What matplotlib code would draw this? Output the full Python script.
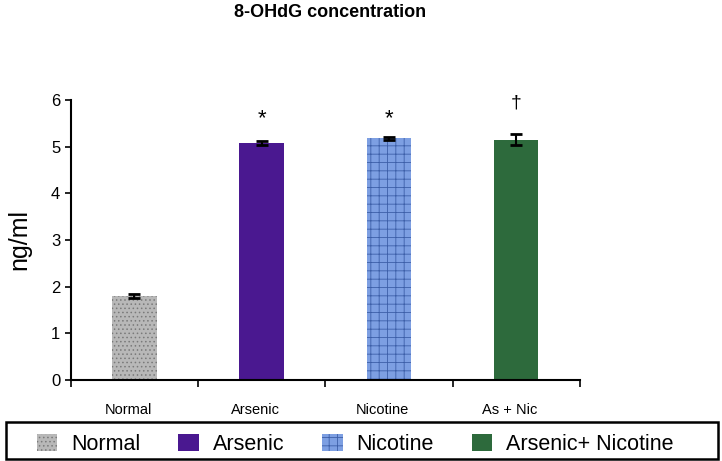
import numpy as np
import matplotlib.pyplot as plt
from matplotlib.patches import Patch, Rectangle

# data
groups = ["Normal", "Arsenic", "Nicotine", "As + Nic"]
legend_names = ["Normal", "Arsenic", "Nicotine", "Arsenic+ Nicotine"]
means = [1.80, 5.08, 5.18, 5.15]
errs = [0.04, 0.05, 0.03, 0.12]
marks = ["", "*", "*", "\u2020"]
mark_y = [0, 5.6, 5.6, 5.93]

colors = ["#b8b8b8", "#4a1890", "#7d9fe2", "#2d6a3c"]
hatches = ["....", None, "++", None]
edgecols = ["#7a7a7a", "#4a1890", "#3d5fa8", "#2d6a3c"]

plt.rcParams['hatch.linewidth'] = 0.6
plt.rcParams['font.family'] = ['Liberation Sans', 'DejaVu Sans']

fig = plt.figure(figsize=(7.22, 4.61), dpi=100)
ax = fig.add_axes([0.098, 0.176, 0.705, 0.607])

x = np.arange(len(groups))
bars = ax.bar(x, means, width=0.35, color=colors, linewidth=0)
for b, h, ec in zip(bars, hatches, edgecols):
    if h:
        b.set_hatch(h)
        b.set_edgecolor(ec)
ax.errorbar(x, means, yerr=errs, fmt='none', ecolor='black', elinewidth=1.5,
            capsize=4, capthick=2)

for xi, m, my in zip(x, marks, mark_y):
    if m:
        ax.text(xi, my, m, ha='center', va='center', fontsize=16 if m == "*" else 14)

ax.set_xlim(-0.5, 3.5)
ax.set_ylim(0, 6)
ax.set_yticks(range(7))
ax.tick_params(axis='y', labelsize=12, length=4, width=1.2)
ax.set_xticks(np.arange(-0.5, 3.6, 1))
ax.set_xticklabels([])
ax.tick_params(axis='x', which='major', length=5, width=1.2, direction='out')
ax.set_xticks(x - 0.05, minor=True)
ax.set_xticklabels(groups, minor=True, fontsize=10.5)
ax.tick_params(axis='x', which='minor', length=0, pad=17)

for s in ['top', 'right']:
    ax.spines[s].set_visible(False)
for s in ['left', 'bottom']:
    ax.spines[s].set_linewidth(1.5)

ax.set_ylabel("ng/ml", fontsize=18, labelpad=14)
fig.text(0.457, 0.972, "8-OHdG concentration", ha='center', va='center',
         fontsize=13, fontweight='bold')

# legend box spanning the figure width
fig.patches.append(Rectangle((0.008, 0.004), 0.986, 0.08, transform=fig.transFigure,
                             fill=False, edgecolor='black', linewidth=1.8))
handles = [Patch(facecolor=c, hatch=h, edgecolor=(ec if h else c), linewidth=0)
           for c, h, ec in zip(colors, hatches, edgecols)]
leg = fig.legend(handles, legend_names, loc='center', ncol=4,
                 bbox_to_anchor=(0.492, 0.036), frameon=False,
                 handlelength=0.95, handleheight=0.8, handletextpad=0.65,
                 columnspacing=1.75, borderaxespad=0, borderpad=0,
                 prop={'size': 15.5})

fig.savefig("out.png", dpi=100)
